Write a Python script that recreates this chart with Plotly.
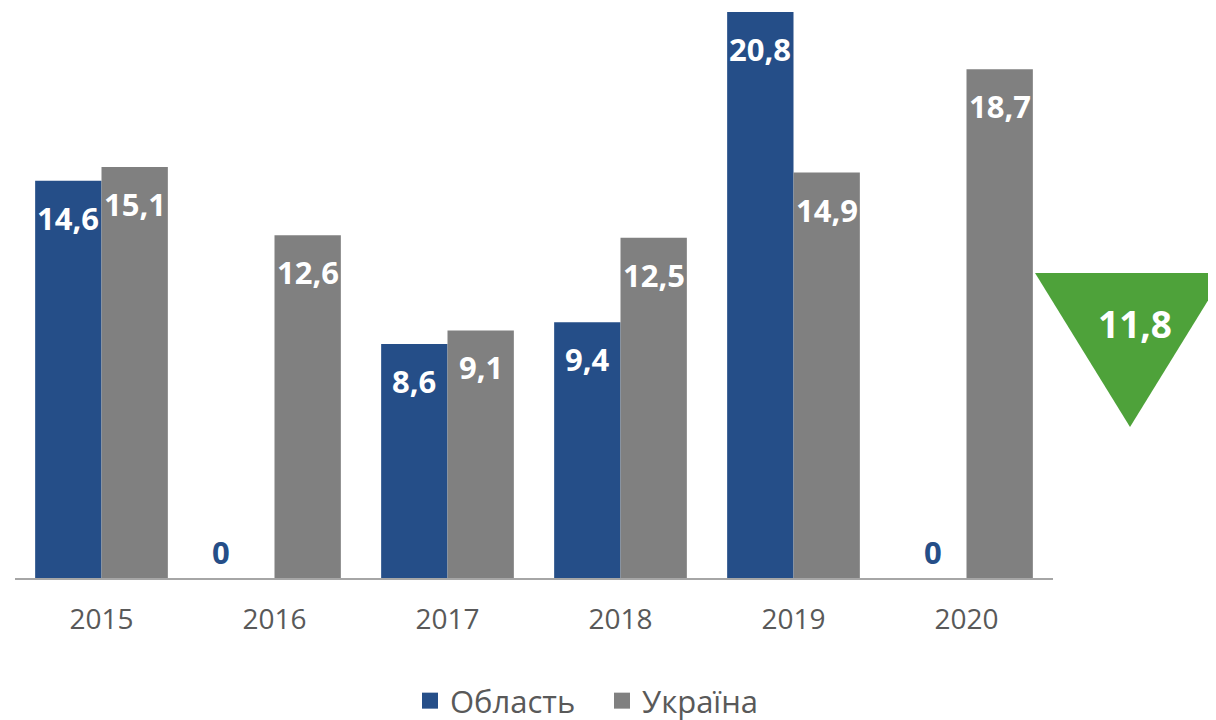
import plotly.graph_objects as go

years = ["2015", "2016", "2017", "2018", "2019", "2020"]
oblast = [14.6, 0, 8.6, 9.4, 20.8, 0]
ukraine = [15.1, 12.6, 9.1, 12.5, 14.9, 18.7]
oblast_labels = ["14,6", "0", "8,6", "9,4", "20,8", "0"]
ukraine_labels = ["15,1", "12,6", "9,1", "12,5", "14,9", "18,7"]
target_value = "11,8"
series_names = ["Область", "Україна"]

BLUE = "#254E88"
GREY = "#808080"
GREEN = "#4EA23A"
FONT = "Open Sans"

fig = go.Figure()
fig.add_trace(go.Bar(x=years, y=oblast, name=series_names[0], marker_color=BLUE,
                     marker_line_width=0, hoverinfo="skip", showlegend=False))
fig.add_trace(go.Bar(x=years, y=ukraine, name=series_names[1], marker_color=GREY,
                     marker_line_width=0, hoverinfo="skip", showlegend=False))
# legend entries with larger square symbols
fig.add_trace(go.Scatter(x=[None], y=[None], mode="markers", name=series_names[0],
                         marker=dict(symbol="square", size=20, color=BLUE), hoverinfo="skip"))
fig.add_trace(go.Scatter(x=[None], y=[None], mode="markers", name=series_names[1],
                         marker=dict(symbol="square", size=20, color=GREY), hoverinfo="skip"))

annotations = []
half = 33.5
LSIZE = 31
lab_font = dict(family=FONT, size=LSIZE, color="white", weight="bold")
zero_extra_shift = {1: -20}  # the 2016 zero label sits further left in the original
for i, (v, lab) in enumerate(zip(oblast, oblast_labels)):
    if v > 0:
        annotations.append(dict(x=i, y=v, xref="x", yref="y", text=lab, showarrow=False,
                                xshift=-half, yshift=-37, yanchor="middle", font=lab_font))
    else:
        annotations.append(dict(x=i, y=v, xref="x", yref="y", text=lab, showarrow=False,
                                xshift=-half + zero_extra_shift.get(i, 0), yshift=26,
                                yanchor="middle",
                                font=dict(family=FONT, size=LSIZE, color=BLUE, weight="bold")))
for i, (v, lab) in enumerate(zip(ukraine, ukraine_labels)):
    annotations.append(dict(x=i, y=v, xref="x", yref="y", text=lab, showarrow=False,
                            xshift=half, yshift=-37, yanchor="middle", font=lab_font))

annotations.append(dict(x=1.079, y=0.4505, xref="paper", yref="paper", text=target_value,
                        showarrow=False, xanchor="center", yanchor="middle",
                        font=dict(family=FONT, size=37, color="white", weight="bold")))

fig.add_shape(type="path", xref="paper", yref="paper",
              path="M 0.9827 0.5389 L 1.1657 0.5389 L 1.0742 0.2668 Z",
              fillcolor=GREEN, line=dict(width=0), layer="below")

fig.update_layout(
    width=1216, height=720,
    margin=dict(l=7, r=171, t=4, b=150),
    paper_bgcolor="white", plot_bgcolor="white",
    barmode="group", bargap=0.233, bargroupgap=0,
    annotations=annotations,
    font=dict(family=FONT, color="#595959"),
    legend=dict(orientation="h", xref="container", yref="container", x=0.3306, y=-0.005,
                xanchor="left", yanchor="bottom", font=dict(size=31, color="#595959"),
                traceorder="normal", itemsizing="trace", entrywidth=147),
    xaxis=dict(type="category", range=[-0.5, 5.5], showgrid=False, showline=True,
               linecolor="#A6A6A6", linewidth=2, ticklabelstandoff=15,
               ticks="", tickfont=dict(size=28, color="#595959")),
    yaxis=dict(range=[0, 20.8], visible=False, showgrid=False, zeroline=False),
)

fig.write_html("out.html")
